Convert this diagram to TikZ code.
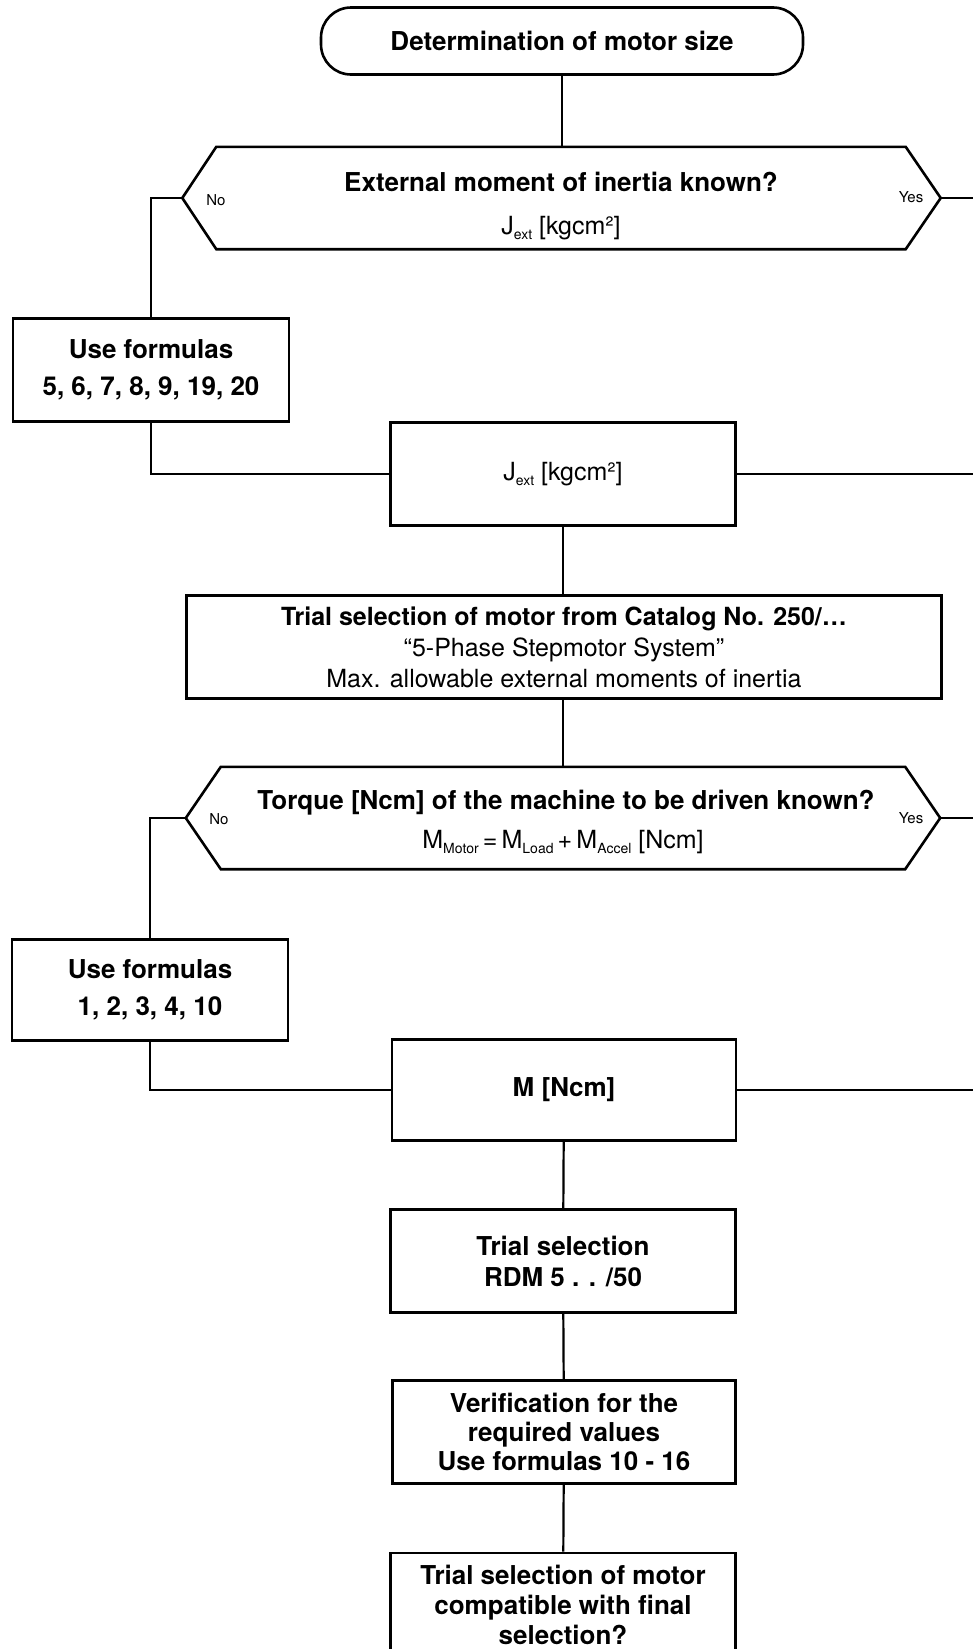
\documentclass[tikz,border=0pt]{standalone}
\usepackage{fontspec}
\setmainfont{TeX Gyre Heros}
\usetikzlibrary{positioning}
\usetikzlibrary{calc}

\tikzset{
  boxline/.style={draw, line width=2.6pt},
  stepbox/.style={boxline, rectangle, inner sep=0pt, align=center, minimum height=103pt},
  hexbox/.style={rectangle, inner sep=0pt, minimum height=102pt},
  wire/.style={line width=2.2pt},
  txtbold/.style={font=\fontsize{26}{31}\selectfont\bfseries},
  txtplain/.style={font=\fontsize{25}{31}\selectfont},
  txtsmall/.style={font=\fontsize{15}{15}\selectfont},
}
\newcommand{\lowsub}[1]{\raisebox{-0.45ex}{\fontsize{14}{14}\selectfont #1}}

\begin{document}
\begin{tikzpicture}[x=1pt,y=-1pt]
\useasboundingbox (0,0) rectangle (973,1649);
\clip (0,0) rectangle (973,1649);

\node[boxline, rounded corners=30pt, minimum width=482pt, minimum height=67pt, txtbold](start) at (562,41){Determination of motor size};

% first question
\node[hexbox, minimum width=689pt](q1) at (561,198){};
\coordinate (q1l) at ([xshift=-34pt]q1.west);
\coordinate (q1r) at ([xshift=35pt]q1.east);
\draw[boxline] (q1.north west) -- (q1.north east) -- (q1r) -- (q1.south east) -- (q1.south west) -- (q1l) -- cycle;
\node[txtbold](q1a) at (561,182){External moment of inertia known?};
\node[txtplain](q1b) at (561,228){J\lowsub{ext} [kgcm²]};
\node[txtsmall](q1no) at (216,200){No};
\node[txtsmall](q1yes) at (911,197){Yes};
\coordinate (edge1) at (973,198);

\node[stepbox, minimum width=276pt, txtbold](form1) at (151,370){Use formulas\\[6pt]5, 6, 7, 8, 9, 19, 20};
\node[stepbox, minimum width=345pt, txtplain](jext) at (563,474){J\lowsub{ext} [kgcm²]};
\coordinate (edge2) at (973,474);
\node[stepbox, minimum width=755pt, txtplain](catalog) at (564,647){\textbf{Trial selection of motor from Catalog No. 250/\dots}\\``5-Phase Stepmotor System''\\Max. allowable external moments of inertia};

% second question
\node[hexbox, minimum width=684pt](q2) at (563,818){};
\coordinate (q2l) at ([xshift=-35pt]q2.west);
\coordinate (q2r) at ([xshift=35pt]q2.east);
\draw[boxline] (q2.north west) -- (q2.north east) -- (q2r) -- (q2.south east) -- (q2.south west) -- (q2l) -- cycle;
\node[txtbold](q2a) at (566,803){Torque [Ncm] of the machine to be driven known?};
\node[txtplain](q2b) at (563,842){M\lowsub{Motor}\,=\,M\lowsub{Load}\,+\,M\lowsub{Accel} [Ncm]};
\node[txtsmall](q2no) at (219,819){No};
\node[txtsmall](q2yes) at (911,818){Yes};
\coordinate (edge3) at (973,818);

\node[stepbox, minimum width=276pt, minimum height=101pt, txtbold](form2) at (150,990){Use formulas\\[6pt]1, 2, 3, 4, 10};
\node[stepbox, minimum width=344pt, minimum height=101pt, txtbold](torque) at (564,1090){M [Ncm]};
\coordinate (edge4) at (973,1090);
\node[stepbox, minimum width=345pt, txtbold](rdm) at (563,1261){Trial selection\\RDM 5 . . /50};
\node[stepbox, minimum width=343pt, txtbold, font=\fontsize{26}{29}\selectfont\bfseries](verify) at (564,1432){Verification for the\\required values\\Use formulas 10 - 16};
\node[stepbox, minimum width=345pt, minimum height=104pt, txtbold, font=\fontsize{26}{30}\selectfont\bfseries](final) at (563,1605){Trial selection of motor\\compatible with final\\selection?};

\draw[wire] (start) -- (start |- q1.north);
\draw[wire] (q1l) -| (form1);
\draw[wire] (q1r) -- (edge1);
\draw[wire] (form1) |- (jext);
\draw[wire] (jext) -- (edge2);
\draw[wire] (jext) -- (jext |- catalog.north);
\draw[wire] (catalog.south -| jext) -- (jext |- q2.north);
\draw[wire] (q2l) -| (form2);
\draw[wire] (q2r) -- (edge3);
\draw[wire] (form2) |- (torque);
\draw[wire] (torque) -- (edge4);
\draw[wire] (torque) -- (rdm);
\draw[wire] (rdm) -- (verify);
\draw[wire] (verify) -- (final);
\end{tikzpicture}
\end{document}
